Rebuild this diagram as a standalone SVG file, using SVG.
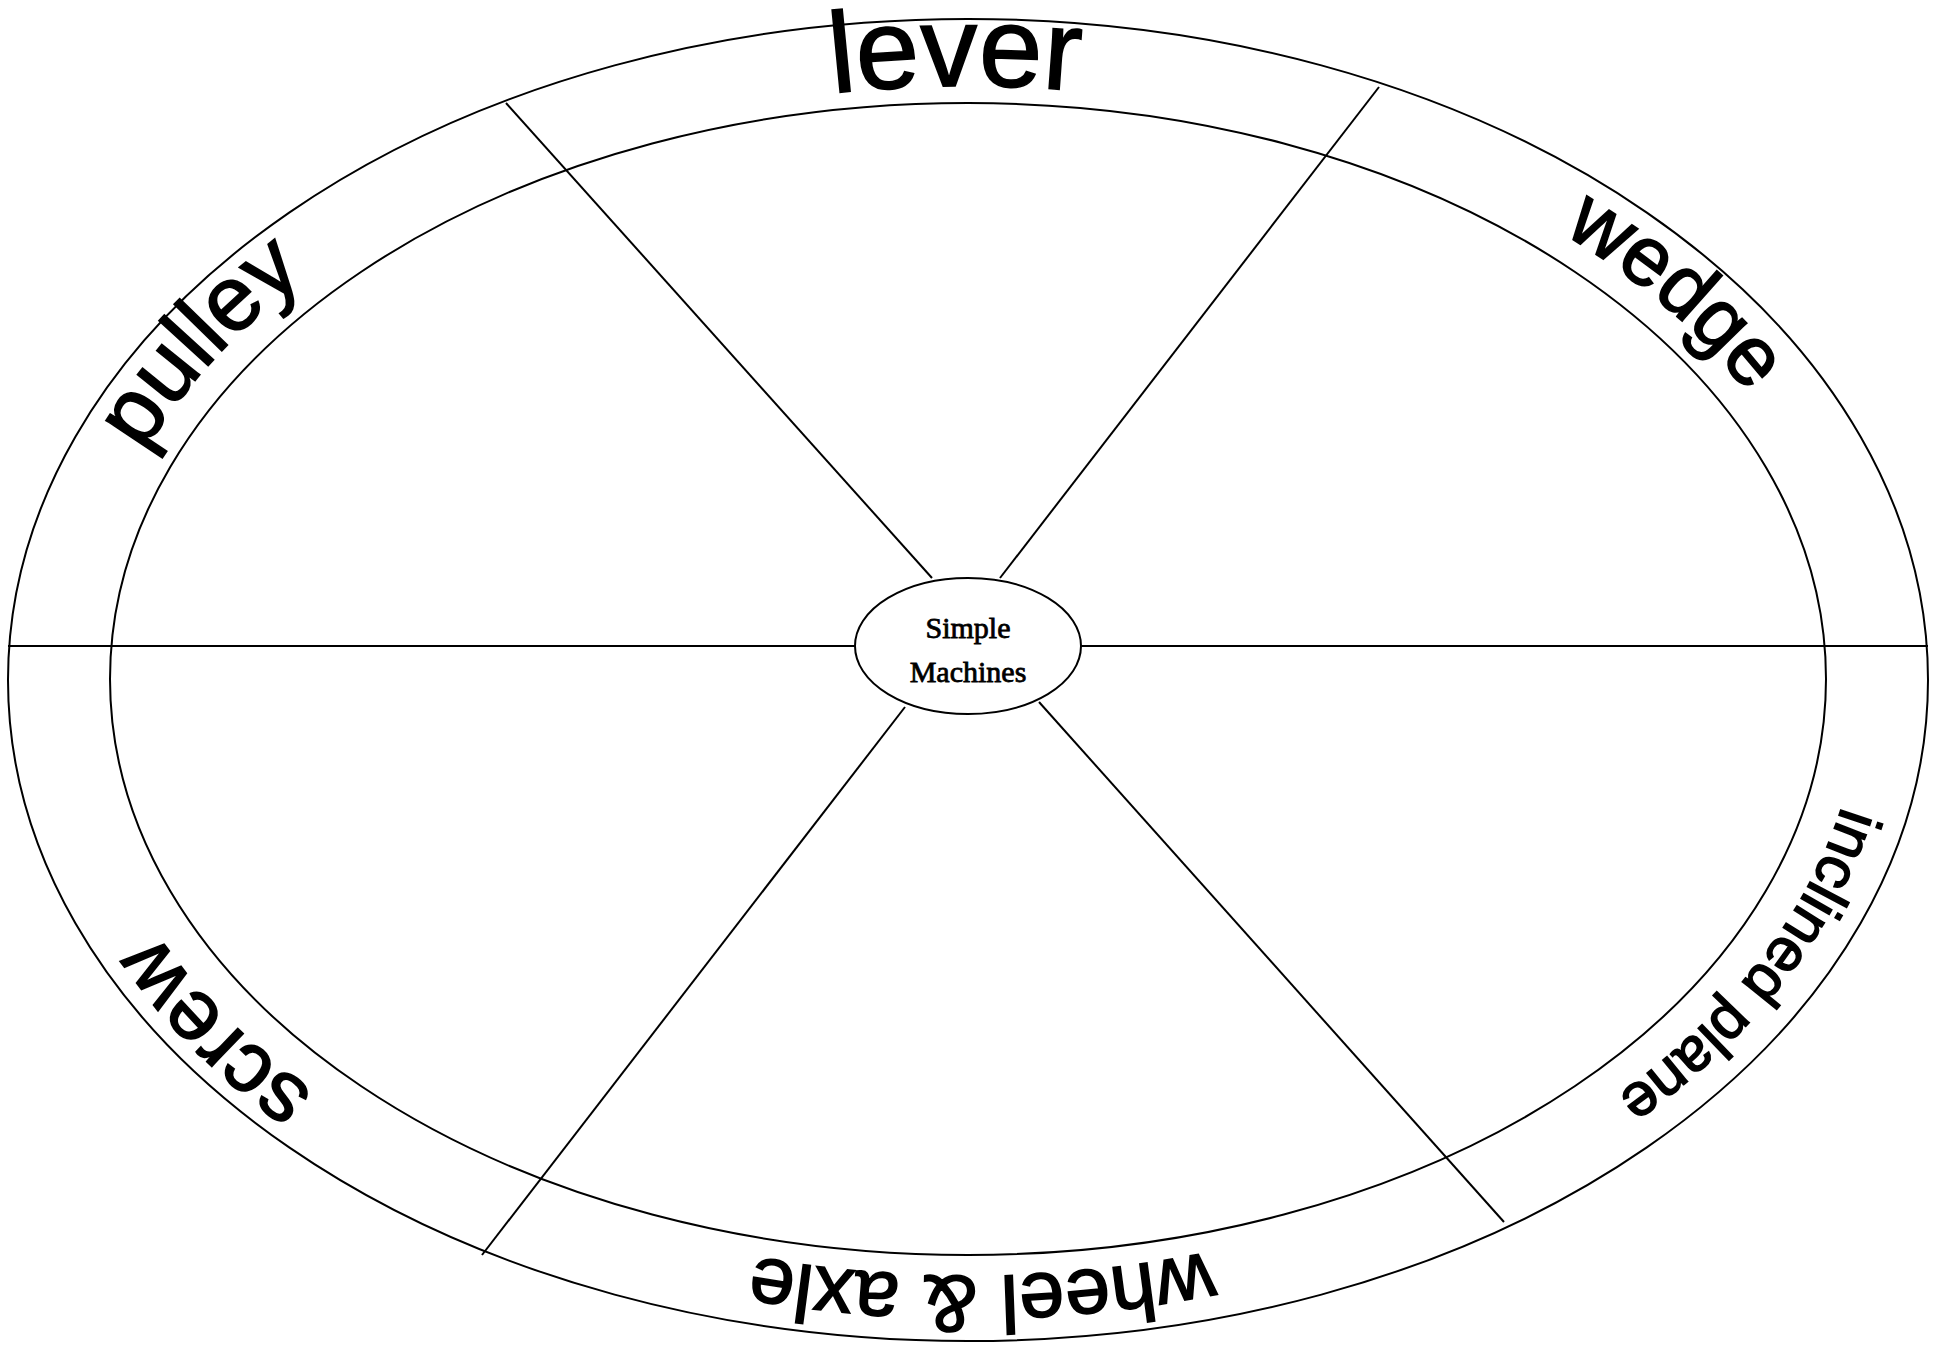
<svg xmlns="http://www.w3.org/2000/svg" xmlns:xlink="http://www.w3.org/1999/xlink" width="1944" height="1356" viewBox="0 0 1944 1356">
<style>
.ring{fill:none;stroke:#000;stroke-width:2}
.spoke{stroke:#000;stroke-width:2;fill:none}
.lbl{font-family:"Liberation Sans",Arial,sans-serif;fill:#000;stroke:#000;stroke-width:1.6}
.ctr{font-family:"Liberation Serif","DejaVu Serif",serif;font-size:30px;fill:#000;stroke:#000;stroke-width:0.8}
</style>
<defs>
<path id="p-lever" d="M 980.2 1272 A 871 593 0 0 1 955.8 86 A 871 593 0 0 1 980.2 1272 Z"/>
<path id="p-pulley" d="M 1720.0 1000.9 A 889.6 602.4 0 0 1 216.0 357.1 A 889.6 602.4 0 0 1 1720.0 1000.9 Z"/>
<path id="p-wedge" d="M 272.6 1053.4 A 888.6 601.5 0 0 1 1663.4 304.6 A 888.6 601.5 0 0 1 272.6 1053.4 Z"/>
<path id="p-screw" d="M 1707.2 338.5 A 893.7 605.8 0 0 1 228.8 1019.5 A 893.7 605.8 0 0 1 1707.2 338.5 Z"/>
<path id="p-wheel" d="M 954.1 81.8 A 883.5 597.3 0 0 1 981.9 1276.2 A 883.5 597.3 0 0 1 954.1 81.8 Z"/>
<path id="p-incl" d="M 183.3 389.0 A 893.7 605.8 0 0 1 1752.7 969.0 A 893.7 605.8 0 0 1 183.3 389.0 Z"/>
</defs>
<g id="ring">
<ellipse class="ring" cx="968" cy="680" rx="960" ry="661"/>
<ellipse class="ring" cx="968" cy="679" rx="858" ry="576"/>
</g>
<g id="connectors">
<line class="spoke" x1="8" y1="646" x2="855" y2="646"/>
<line class="spoke" x1="1081" y1="646" x2="1928" y2="646"/>
<line class="spoke" x1="506" y1="103" x2="932" y2="578"/>
<line class="spoke" x1="1379" y1="87" x2="1000" y2="578"/>
<line class="spoke" x1="905" y1="707" x2="482" y2="1255"/>
<line class="spoke" x1="1039" y1="702" x2="1504" y2="1222"/>
</g>
<g id="node-center">
<ellipse class="ring" cx="968" cy="646" rx="113" ry="68"/>
<text class="ctr" x="968" y="638" text-anchor="middle">Simple</text>
<text class="ctr" x="968" y="682" text-anchor="middle">Machines</text>
</g>
<g id="node-lever"><text class="lbl" font-size="114"><textPath xlink:href="#p-lever" href="#p-lever" startOffset="50%" text-anchor="middle">lever</textPath></text></g>
<g id="node-pulley"><text class="lbl" font-size="92"><textPath xlink:href="#p-pulley" href="#p-pulley" startOffset="50%" text-anchor="middle">pulley</textPath></text></g>
<g id="node-wedge"><text class="lbl" font-size="84"><textPath xlink:href="#p-wedge" href="#p-wedge" startOffset="50%" text-anchor="middle">wedge</textPath></text></g>
<g id="node-screw"><text class="lbl" font-size="86"><textPath xlink:href="#p-screw" href="#p-screw" startOffset="50%" text-anchor="middle">screw</textPath></text></g>
<g id="node-wheel"><text class="lbl" font-size="81"><textPath xlink:href="#p-wheel" href="#p-wheel" startOffset="50%" text-anchor="middle">wheel &amp; axle</textPath></text></g>
<g id="node-inclined"><text class="lbl" font-size="61"><textPath xlink:href="#p-incl" href="#p-incl" startOffset="50%" text-anchor="middle">inclined plane</textPath></text></g>
</svg>
